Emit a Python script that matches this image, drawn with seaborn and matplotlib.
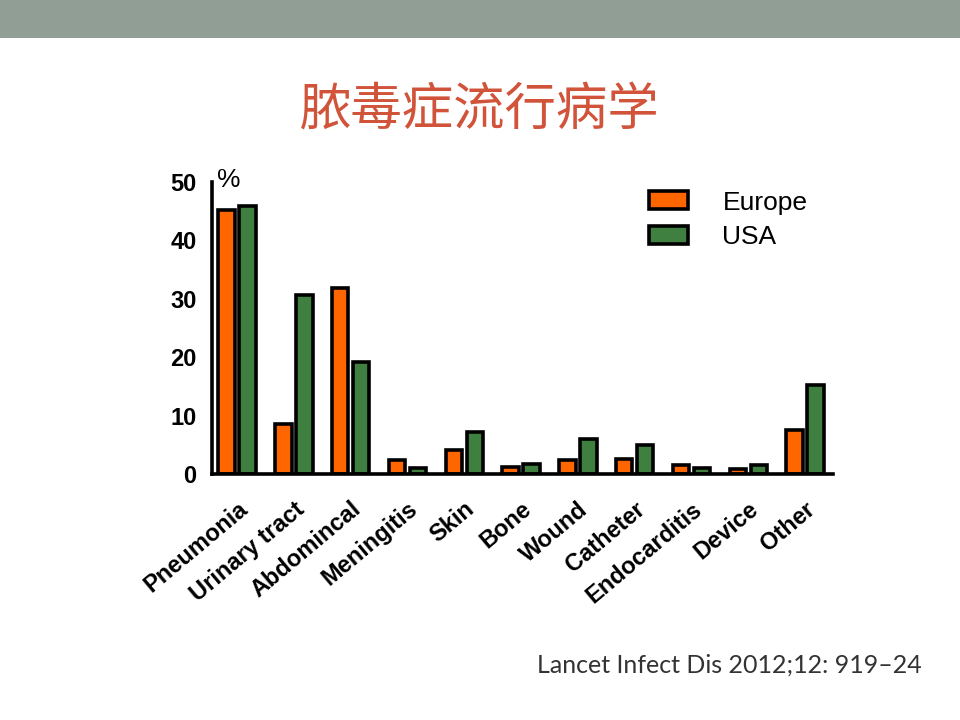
import matplotlib
matplotlib.use("Agg")
import matplotlib.pyplot as plt
from matplotlib.patches import Rectangle, Patch
import seaborn as sns
import pandas as pd

sites = ["Pneumonia", "Urinary tract", "Abdomincal", "Meningitis", "Skin", "Bone",
         "Wound", "Catheter", "Endocarditis", "Device", "Other"]
europe = [45.2, 8.6, 31.8, 2.4, 4.1, 1.2, 2.4, 2.6, 1.5, 0.9, 7.5]
usa = [45.9, 30.6, 19.2, 1.0, 7.2, 1.7, 6.0, 5.0, 1.1, 1.5, 15.2]
regions = ["Europe", "USA"]
colors = ["#FF6600", "#3F7F3F"]
yticks = [0, 10, 20, 30, 40, 50]

df = pd.DataFrame({
    "site": sites * 2,
    "pct": europe + usa,
    "region": [regions[0]] * len(sites) + [regions[1]] * len(sites),
})

sns.set_style("white")
plt.rcParams["font.family"] = ["Liberation Sans", "DejaVu Sans"]
plt.rcParams["text.color"] = "black"
plt.rcParams["xtick.color"] = "black"
plt.rcParams["ytick.color"] = "black"

fig = plt.figure(figsize=(9.6, 7.2), dpi=100)
fig.patch.set_facecolor("white")

# top band
fig.patches.append(Rectangle((0, 1 - 38 / 720), 1, 38 / 720, transform=fig.transFigure,
                             facecolor="#919E96", edgecolor="none"))

ax = fig.add_axes([212 / 960, 1 - 474 / 720, (833 - 212) / 960, (474 - 182) / 720])
sns.barplot(data=df, x="site", y="pct", hue="region", palette=colors, width=0.74, gap=0.22,
            edgecolor="black", linewidth=2.6, ax=ax, legend=False, saturation=1)

ax.set_xlim(-0.44, 10.49)
ax.set_ylim(0, 50)
ax.set_yticks(yticks)
ax.set_xlabel("")
ax.set_ylabel("")
for s in ["top", "right"]:
    ax.spines[s].set_visible(False)
for s in ["left", "bottom"]:
    ax.spines[s].set_linewidth(2.6)
    ax.spines[s].set_color("black")
ax.tick_params(axis="both", direction="out", length=8, width=2.6, color="black", labelcolor="black")
ax.tick_params(axis="x", pad=9)
ax.tick_params(axis="y", pad=3)
ax.set_yticklabels([str(v) for v in yticks], fontsize=17, fontweight="bold")
ax.set_xticks(range(len(sites)))
ax.set_xticklabels(sites, rotation=40, ha="right", rotation_mode="anchor",
                   fontsize=17, fontweight="bold")
ax.text(0.008, 50.3, "%", transform=ax.get_yaxis_transform(), fontsize=19, va="center", ha="left")

handles = [Patch(facecolor=c, edgecolor="black", linewidth=2.6, label=r) for c, r in zip(colors, regions)]
fig.legend(handles=handles, loc="upper left", bbox_to_anchor=(638 / 960, 1 - 180 / 720),
           frameon=False, fontsize=19, handlelength=1.5, handleheight=0.65,
           handletextpad=1.3, labelspacing=0.4, borderaxespad=0)

fig.text(0.5, 1 - 110 / 720, "脓毒症流行病学", family=["Noto Sans CJK SC", "DejaVu Sans"],
         color="#D0533A", fontsize=37, ha="center", va="center")
fig.text(922 / 960, 1 - 665 / 720, "Lancet Infect Dis 2012;12: 919–24", family=["Lato", "DejaVu Sans"],
         color="#333333", fontsize=18, ha="right", va="center")

fig.savefig("out.png", dpi=100)
